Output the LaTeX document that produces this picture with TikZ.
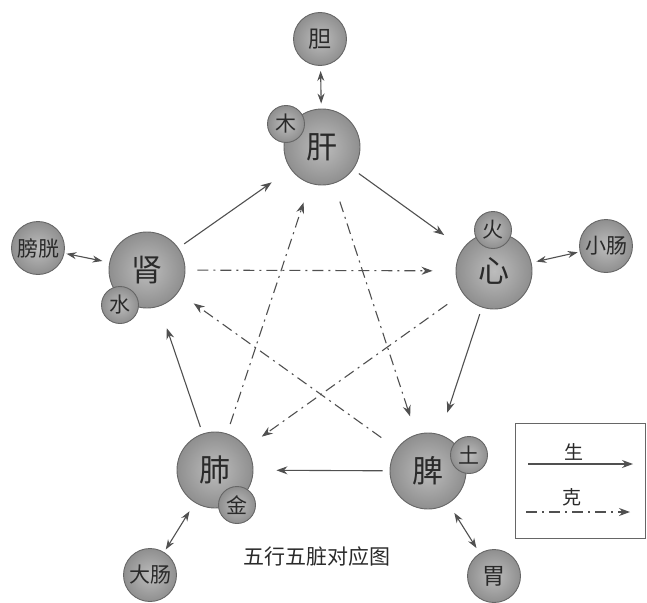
\documentclass[tikz,border=0pt]{standalone}
\usepackage{fontspec}
\setmainfont{Noto Sans CJK SC}
\usetikzlibrary{arrows.meta}
\definecolor{wxline}{HTML}{505050}
\definecolor{wxedge}{HTML}{666666}
\definecolor{wxtext}{HTML}{2A2A2A}

\begin{document}
\begin{tikzpicture}[x=1pt, y=-1pt,
  zang/.style={circle, draw=wxedge, line width=0.9pt, inner sep=0pt,
    minimum size=76pt, inner color=gray!52, outer color=gray!88,
    text=wxtext, font=\fontsize{31}{31}\selectfont},
  xing/.style={zang, minimum size=37pt, font=\fontsize{21}{21}\selectfont},
  fu/.style={zang, minimum size=53pt, font=\fontsize{23}{23}\selectfont},
  sheng/.style={draw=wxline, line width=1.1pt, -{Stealth[length=11pt,width=8pt]},
    shorten <=7pt, shorten >=23pt},
  ke/.style={draw=wxline, line width=1.1pt, -{Stealth[length=11pt,width=8pt]},
    dash pattern=on 11pt off 5pt on 2pt off 5pt, shorten <=19pt, shorten >=19pt},
  biao/.style={draw=wxline, line width=1.1pt,
    {Stealth[length=10pt,width=7pt]}-{Stealth[length=10pt,width=7pt]}}
]
  \useasboundingbox (0,0) rectangle (647,602);

  %% Five zang organs with their elements
  \node[zang] (gan) at (322,147) {肝};
  \node[xing] (mu) at (286,124) {木};
  \node[zang] (xin) at (494,271) {心};
  \node[xing] (huo) at (493,230) {火};
  \node[zang] (pi) at (428,471) {脾};
  \node[xing] (tu) at (469,455) {土};
  \node[zang] (fei) at (215,470) {肺};
  \node[xing] (jin) at (237,505) {金};
  \node[zang] (shen) at (147,270) {肾};
  \node[xing] (shui) at (120,305) {水};

  %% Fu organs
  \node[fu] (dan) at (320,39) {胆};
  \node[fu] (xiaochang) at (606,246) {\fontsize{21}{21}\selectfont 小肠};
  \node[fu] (wei) at (494,576) {胃};
  \node[fu] (dachang) at (150,575) {\fontsize{21}{21}\selectfont 大肠};
  \node[fu] (pangguang) at (38,248) {\fontsize{21}{21}\selectfont 膀胱};

  %% Sheng cycle
  \foreach \a/\b in {shen/gan, gan/xin, xin/pi, pi/fei, fei/shen}{
    \draw[sheng] (\a) -- (\b);
  }

  %% Ke cycle
  \draw[ke, shorten <=12pt, shorten >=23pt] (shen) -- (xin);
  \draw[ke] (gan) -- (pi);
  \draw[ke] (pi) -- (shen);
  \draw[ke] (xin) -- (fei);
  \draw[ke, shorten <=10pt, shorten >=20pt] (fei) -- (gan);

  %% Zang-fu pairs
  \draw[biao, shorten <=5pt, shorten >=5pt] (dan) -- (gan);
  \draw[biao, shorten <=5pt, shorten >=2pt] (xin) -- (xiaochang);
  \draw[biao, shorten <=11pt, shorten >=6pt] (pi) -- (wei);
  \draw[biao, shorten <=10pt, shorten >=3pt] (fei) -- (dachang);
  \draw[biao, shorten <=7pt, shorten >=2pt] (shen) -- (pangguang);

  %% Legend
  \draw[wxedge, line width=0.9pt] (515,423) rectangle (645,538);
  \node[text=wxtext, font=\fontsize{19}{19}\selectfont] (shenglab) at (574,452) {生};
  \coordinate (shengL) at (528,464);
  \coordinate (shengR) at (633,464);
  \draw[sheng, shorten <=0pt, shorten >=0pt] (shengL) -- (shengR);
  \node[text=wxtext, font=\fontsize{19}{19}\selectfont] (kelab) at (572,497) {克};
  \coordinate (keL) at (526,512);
  \coordinate (keR) at (630,512);
  \draw[ke, shorten <=0pt, shorten >=0pt] (keL) -- (keR);

  %% Title
  \node[text=wxtext, font=\fontsize{21}{21}\selectfont] (title) at (317,557) {五行五脏对应图};
\end{tikzpicture}
\end{document}
